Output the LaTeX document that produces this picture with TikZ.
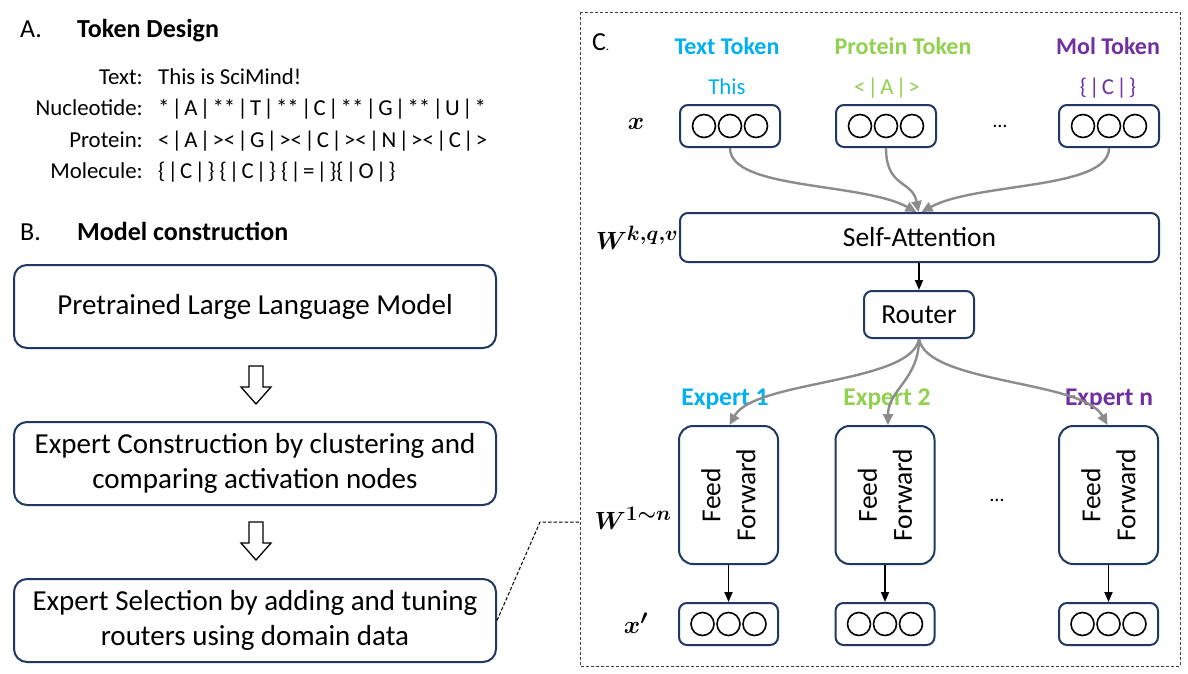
\documentclass[tikz,border=0pt]{standalone}
\usepackage{amsmath,bm}
\usepackage{fontspec}
\setmainfont{Carlito}
\usetikzlibrary{arrows.meta,calc}
\definecolor{navy}{HTML}{1F3864}
\definecolor{tcyan}{HTML}{00B0F0}
\definecolor{tgreen}{HTML}{92D050}
\definecolor{tpurple}{HTML}{7030A0}
\definecolor{cgray}{HTML}{8C8C8C}
\newcommand{\vb}{\kern2.2pt|\kern2.2pt}
\tikzset{
  bigbox/.style={draw=navy,line width=2pt,rounded corners=13pt,minimum width=482pt,minimum height=83pt,align=center,inner sep=0pt,font=\fontsize{29}{35}\selectfont},
  tokbox/.style={draw=navy,line width=2pt,rounded corners=8pt,minimum width=100pt,minimum height=42pt,inner sep=0pt},
  ffbox/.style={draw=navy,line width=2pt,rounded corners=14pt,minimum width=99pt,minimum height=138pt,inner sep=0pt},
  wbox/.style={draw=navy,line width=2pt,rounded corners=8pt,inner sep=0pt,font=\fontsize{27.5}{32}\selectfont},
  ring/.style={draw=black,line width=1.6pt,circle,minimum size=23pt,inner sep=0pt},
  garrow/.style={draw=cgray,line width=2.4pt,-{Triangle[length=11pt,width=10pt]}},
  karrow/.style={draw=black,line width=1.8pt,-{Triangle[length=10pt,width=8pt]}},
  hollow/.style={draw=black,line width=1.3pt,fill=white,line join=miter},
  lab/.style={font=\fontsize{22.8}{28}\selectfont,inner sep=0pt},
  head/.style={font=\fontsize{24}{28}\selectfont\bfseries,inner sep=0pt},
  ehead/.style={font=\fontsize{25.5}{28}\selectfont\bfseries,inner sep=0pt},
  mlab/.style={font=\fontsize{28}{32}\selectfont,inner sep=0pt},
}
\newcommand{\hollowarrow}[2]{%
  \begin{scope}[shift={(#1,#2)}]
    \draw[hollow] (-7,0) -- (7,0) -- (7,21) -- (15,21) -- (0,38) -- (-15,21) -- (-7,21) -- cycle;
  \end{scope}}
\begin{document}
\begin{tikzpicture}[x=1pt,y=-1pt]
\useasboundingbox (0,0) rectangle (1188,673);
\fill[white] (0,0) rectangle (1188,673);

% ---------- A ----------
\node[anchor=base west,inner sep=0pt,font=\fontsize{26}{30}\selectfont] (Alab) at (20,37) {A.};
\node[anchor=base west,inner sep=0pt,font=\fontsize{26}{30}\selectfont\bfseries] (Atitle) at (77,37) {Token Design};
\node[lab,anchor=base east] (l1) at (143,84) {Text:};
\node[lab,anchor=base west] (v1) at (158,84) {This is SciMind!};
\node[lab,anchor=base east] (l2) at (143,115) {Nucleotide:};
\node[lab,anchor=base west] (v2) at (158,115) {*\vb A\vb **\vb T\vb **\vb C\vb **\vb G\vb **\vb U\vb *};
\node[lab,anchor=base east] (l3) at (143,147) {Protein:};
\node[lab,anchor=base west] (v3) at (158,147) {<\vb A\vb ><\vb G\vb ><\vb C\vb ><\vb N\vb ><\vb C\vb >};
\node[lab,anchor=base east] (l4) at (143,178) {Molecule:};
\node[lab,anchor=base west] (v4) at (158,178) {\{\vb C\vb \} \{\vb C\vb \} \{\vb =\vb \}\{\vb O\vb \}};

% ---------- B ----------
\node[anchor=base west,inner sep=0pt,font=\fontsize{26}{30}\selectfont] (Blab) at (20,240) {B.};
\node[anchor=base west,inner sep=0pt,font=\fontsize{26}{30}\selectfont\bfseries] (Btitle) at (77,240) {Model construction};
\node[bigbox] (b1) at (255,306.5) {Pretrained Large Language Model};
\node[bigbox] (b2) at (255,463.5) {Expert Construction by clustering and\\comparing activation nodes};
\node[bigbox] (b3) at (255,620.5) {Expert Selection by adding and tuning\\routers using domain data};
\hollowarrow{256}{366}
\hollowarrow{256}{522}

% ---------- C frame ----------
\draw[draw=black!75,line width=1pt,dash pattern=on 3pt off 2pt] (580,12) rectangle (1180,666);
\coordinate (fl) at (580,522);
\coordinate (bend) at (540,522);
\draw[black,line width=1pt,dash pattern=on 3.5pt off 2pt] (b3.east) -- (bend) -- (fl);

\node[anchor=base west,inner sep=0pt,font=\fontsize{26}{30}\selectfont] (Clab) at (592,50) {C\fontsize{12}{12}\selectfont.};

% headers
\node[head,text=tcyan,anchor=base] (h1) at (727,54) {Text Token};
\node[head,text=tgreen,anchor=base] (h2) at (903,54) {Protein Token};
\node[head,text=tpurple,anchor=base] (h3) at (1108,54) {Mol Token};
\node[lab,text=tcyan,anchor=base] (s1) at (727,94) {This};
\node[lab,text=tgreen,anchor=base] (s2) at (887,94) {<\vb A\vb >};
\node[lab,text=tpurple,anchor=base] (s3) at (1108,94) {\{\vb C\vb \}};

% math labels
\node[mlab] (xl) at (636,124) {$\bm{x}$};
\node[mlab] (wl) at (637,238) {$\bm{W}^{\bm{k,q,v}}$};
\node[mlab] (wn) at (633,518) {$\bm{W}^{\bm{1\sim n}}$};
\node[mlab] (xp) at (636,623) {$\bm{x'}$};

% token boxes
\foreach \n/\cx in {t1/730,t2/886,t3/1109}{
  \node[tokbox] (\n) at (\cx,126) {};
  \node[ring] (\n a) at ($(\n.center)+(-26,0)$) {};
  \node[ring] (\n b) at (\n.center) {};
  \node[ring] (\n c) at ($(\n.center)+(26,0)$) {};
}
\node[lab] (dots1) at (1000,126) {\fontsize{20}{20}\selectfont…};

% self attention
\node[wbox,minimum width=479pt,minimum height=49pt] (sa) at (919.5,237.5) {Self-Attention};
\draw[garrow] (t1.south) .. controls +(0,42) and +(-55,-30) .. ([xshift=-3pt]sa.north);
\draw[garrow] (t2.south) .. controls +(0,40) and +(-6,-32) .. ([xshift=-1pt]sa.north);
\draw[garrow] (t3.south) .. controls +(0,42) and +(55,-30) .. ([xshift=2pt]sa.north);

% router
\node[wbox,minimum width=110pt,minimum height=47pt] (rt) at (919,314.5) {Router};
\draw[karrow] (sa.south -| rt.north) -- (rt.north);

% experts
\node[ehead,text=tcyan,anchor=base] (e1) at (725,405) {Expert 1};
\node[ehead,text=tgreen,anchor=base] (e2) at (887,405) {Expert 2};
\node[ehead,text=tpurple,anchor=base] (e3) at (1109,405) {Expert n};

\foreach \n/\cx in {f1/728.5,f2/885,f3/1108.5}{
  \node[ffbox] (\n) at (\cx,495) {};
  \node[rotate=90,align=center,inner sep=0pt,font=\fontsize{27.5}{35}\selectfont] (\n t) at (\n.center) {Feed\\Forward};
}
\node[lab] (dots2) at (997,500) {\fontsize{20}{20}\selectfont…};

\draw[garrow] (rt.south) .. controls +(-8,45) and +(25,-45) .. ([xshift=1pt]f1.north);
\draw[garrow] (rt.south) .. controls +(0,40) and +(0,-35) .. ([xshift=3pt]f2.north);
\draw[garrow] (rt.south) .. controls +(8,45) and +(-25,-45) .. ([xshift=-1pt]f3.north);

% outputs
\foreach \n/\f in {o1/f1,o2/f2,o3/f3}{
  \node[tokbox,minimum width=99pt] (\n) at (\f.center |- 0,624) {};
  \node[ring] (\n a) at ($(\n.center)+(-26,0)$) {};
  \node[ring] (\n b) at (\n.center) {};
  \node[ring] (\n c) at ($(\n.center)+(26,0)$) {};
  \draw[karrow] (\f.south) -- (\n.north);
}
\end{tikzpicture}
\end{document}
